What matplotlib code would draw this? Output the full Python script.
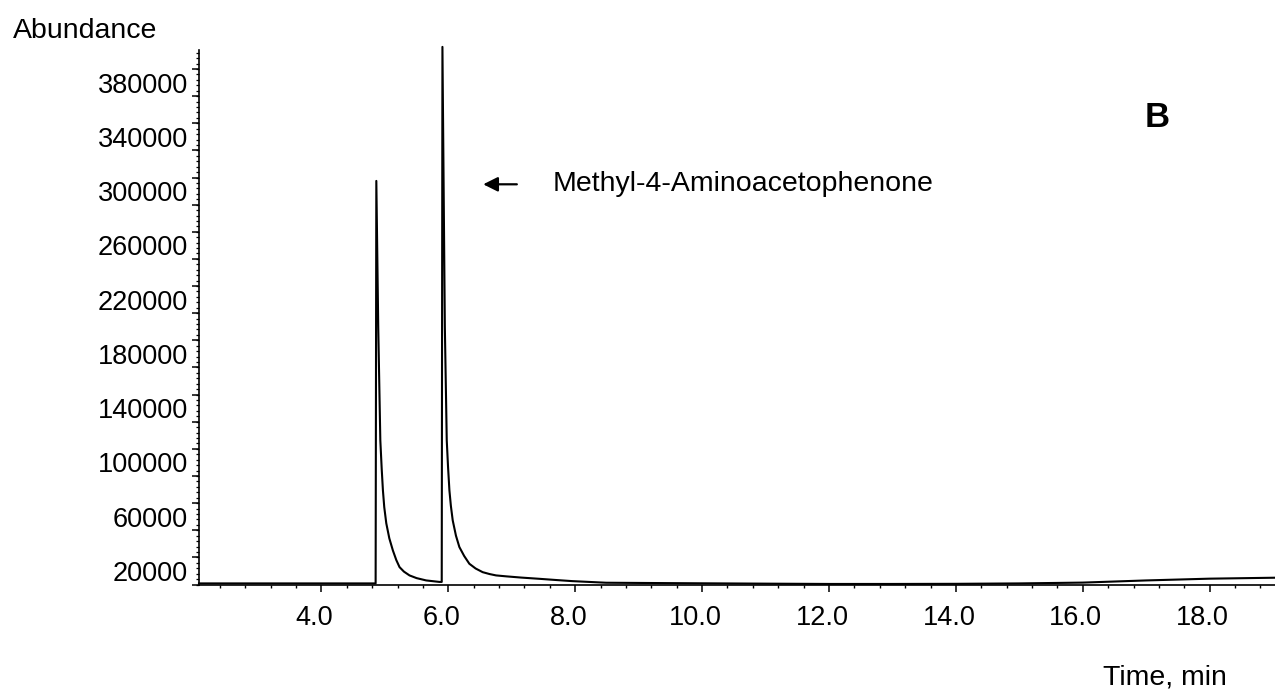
import matplotlib
matplotlib.use('Agg')
import matplotlib.pyplot as plt
from matplotlib.ticker import FixedLocator, MultipleLocator, FormatStrFormatter, NullFormatter
from matplotlib.transforms import ScaledTranslation

plt.rcParams['font.family'] = ['Liberation Sans', 'DejaVu Sans']

# chromatogram trace (time in min, abundance)
TIME_MIN = [2.07, 3.0, 4.0, 4.854, 4.865, 4.895, 4.928, 4.95, 4.969, 4.99, 5.022, 5.07,
            5.126, 5.18, 5.231, 5.30, 5.388, 5.50, 5.651, 5.860, 5.896, 5.907, 5.945,
            5.975, 5.995, 6.017, 6.04, 6.069, 6.12, 6.174, 6.25, 6.331, 6.43, 6.541,
            6.65, 6.752, 6.914, 7.15, 7.433, 7.70, 7.951, 8.486, 9.524, 11.10, 12.0,
            13.0, 14.0, 15.0, 16.0, 17.0, 18.0, 19.03]
ABUNDANCE = [10800, 10800, 10800, 10800, 307500, 200000, 116300, 95000, 79400, 67000, 55100, 44000,
             35100, 28000, 22800, 19500, 16700, 14700, 13000, 11900, 11900, 406300, 200000,
             116300, 97000, 79400, 68000, 57300, 46000, 37600, 31000, 25300, 21800, 19100,
             17700, 16700, 16000, 15100, 14200, 13300, 12500, 11300, 11000, 10600, 10400,
             10400, 10500, 10800, 11400, 13000, 14300, 15000]

Y_LABEL_VALUES = list(range(20000, 380001, 40000))
Y_MEDIUM_TICKS = list(range(10000, 400001, 20000))
Y_SMALL_TICKS = list(range(10000, 404001, 4000))

PEAK_NAME = 'Methyl-4-Aminoacetophenone'
PANEL = 'B'


def main():
    fig = plt.figure(figsize=(12.75, 6.89), dpi=100)
    ax = fig.add_axes([199 / 1275, 1 - 584.5 / 689, 1 - 199 / 1275, (584.5 - 50) / 689])

    ax.plot(TIME_MIN, ABUNDANCE, color='black', lw=1.5, clip_on=False)

    ax.set_xlim(2.07, 19.03)
    ax.set_ylim(10000, 404000)

    for side in ['top', 'right']:
        ax.spines[side].set_visible(False)
    for side in ['left', 'bottom']:
        ax.spines[side].set_linewidth(1.2)

    # x axis ticks
    ax.xaxis.set_major_locator(MultipleLocator(2.0))
    ax.xaxis.set_minor_locator(MultipleLocator(0.4))
    ax.xaxis.set_major_formatter(FormatStrFormatter('%.1f'))
    ax.tick_params(axis='x', which='major', direction='out', length=5, width=1.1,
                   labelsize=19.5, pad=10)
    ax.tick_params(axis='x', which='minor', direction='out', length=2.5, width=1.0)
    ax.set_xticks([t for t in range(4, 19, 2)])
    offset = ScaledTranslation(-7 / 100, 0, fig.dpi_scale_trans)
    for lab in ax.get_xticklabels():
        lab.set_transform(lab.get_transform() + offset)

    # y axis: labels without tick, medium and small ticks
    ax.yaxis.set_major_locator(FixedLocator(Y_LABEL_VALUES))
    ax.yaxis.set_minor_locator(FixedLocator(Y_MEDIUM_TICKS))
    ax.yaxis.set_minor_formatter(NullFormatter())
    ax.set_yticklabels([str(v) for v in Y_LABEL_VALUES])
    ax.tick_params(axis='y', which='major', length=0, labelsize=19.5, pad=8)
    ax.tick_params(axis='y', which='minor', direction='out', length=5, width=1.1)

    sec = ax.secondary_yaxis('left')
    sec.spines['left'].set_visible(False)
    sec.yaxis.set_major_locator(FixedLocator(Y_SMALL_TICKS))
    sec.yaxis.set_major_formatter(NullFormatter())
    sec.tick_params(axis='y', which='major', direction='out', length=2.5, width=0.9)

    # annotation arrow and peak name
    ax.annotate('', xy=(6.55, 305000), xytext=(7.08, 305000),
                arrowprops=dict(arrowstyle='-|>', color='black', lw=1.6,
                                mutation_scale=22, shrinkA=0, shrinkB=0))
    ax.text(7.64, 305000, PEAK_NAME, fontsize=20.5, va='center', ha='left')
    ax.text(17.18, 354000, PANEL, fontsize=25, fontweight='bold', va='center', ha='center')

    fig.text(13 / 1275, 1 - 37.7 / 689, 'Abundance', fontsize=20.5, ha='left', va='baseline')
    fig.text(1227 / 1275, 1 - 685 / 689, 'Time, min', fontsize=20.5, ha='right', va='baseline')

    fig.savefig('out.png', dpi=100)


if __name__ == "__main__":
    main()
